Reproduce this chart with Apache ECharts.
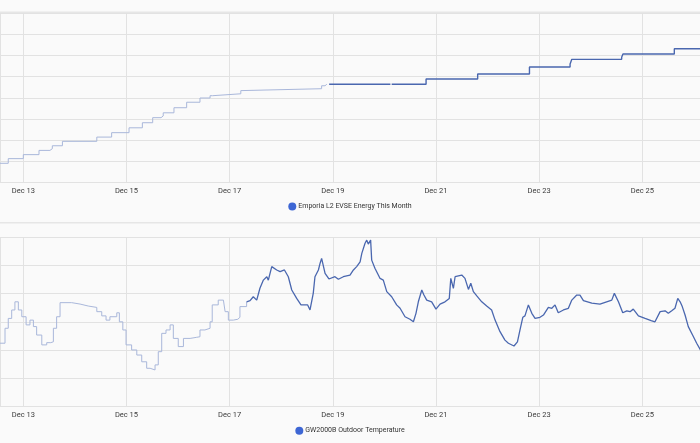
<!DOCTYPE html>
<html>
<head>
<meta charset="utf-8">
<script src="https://cdn.jsdelivr.net/npm/echarts@6/dist/echarts.min.js"></script>
<style>
  html, body { margin: 0; padding: 0; background: #fafafa; }
  #echarts { width: 700px; height: 443px; }
</style>
</head>
<body>
<div id="echarts"></div>
<script>
// x values are hours since Dec 12 00:00
var energyOldHours = [12.5, 17.0, 24.0, 31.3, 36.4, 37.5, 42.2, 58.2, 65.1, 73.2, 79.4, 84.2, 88.1, 89.1, 94.1,
    100.0, 106.2, 110.9, 112.1, 125.2, 125.8, 162.8, 164.4, 165.2];
var energyOldKwh = [9.0, 11.2, 13.1, 15.1, 15.9, 17.3, 19.4, 21.4, 23.5, 25.8, 28.2, 30.6, 31.4, 32.9, 35.3,
    37.9, 39.9, 41.0, 41.9, 43.4, 44.3, 45.7, 46.4, 46.4];
var energyNewHours = [166.3, 194.3, 194.8, 195.4, 211.4, 235.4, 259.5, 278.4, 279.2, 302.4, 303.0, 326.9, 340.0];
var energyNewKwh = [46.4, 46.4, null, 46.4, 48.9, 51.3, 54.6, 56.0, 58.2, 59.2, 60.7, 63.2, 63.2];

var tempOldHours = [12.5, 15.5, 17.0, 18.6, 20.1, 21.7, 23.3, 25.3, 27.1, 28.7, 30.2, 32.6, 34.9, 36.8, 38.0,
    39.5, 41.1, 43.4, 46.5, 50.4, 54.2, 58.2, 60.5, 62.5, 64.3, 67.5, 68.7, 70.3, 71.8, 74.4, 76.8, 79.1, 81.4,
    83.0, 85.3, 86.8, 88.4, 90.4, 92.3, 93.8, 96.1, 98.5, 101.6, 104.7, 106.2, 108.5, 110.9, 111.9, 114.7,
    117.1, 117.9, 119.4, 121.7, 123.8, 124.8, 127.9];
var tempOldF = [32.4, 37.7, 41.2, 44.2, 47.1, 44.2, 41.8, 38.9, 40.6, 38.3, 35.3, 31.8, 32.6, 32.9, 37.7,
    41.8, 46.8, 46.8, 46.3, 45.6, 45.1, 43.6, 42.1, 40.6, 41.8, 43.2, 40.0, 37.1, 31.8, 30.0, 28.2, 25.8, 23.5,
    22.9, 24.7, 29.4, 35.9, 37.1, 38.9, 34.1, 31.2, 34.1, 34.5, 34.7, 37.1, 37.7, 40.0, 46.0, 47.7,
    47.7, 43.6, 40.6, 40.9, 41.6, 45.4, 47.1];
var tempNewHours = [127.9, 129.5, 131.0, 132.6, 134.1, 135.7, 137.3, 138.0, 139.6, 141.9,
    143.5, 145.5, 147.3, 148.9, 151.2, 153.2, 156.3, 157.4, 158.9, 159.7,
    161.3, 162.1, 162.8, 164.4, 166.2, 169.0, 170.6, 172.9, 176.0, 177.6,
    179.1, 180.7, 181.5, 183.0, 183.8, 184.5, 185.6, 186.1, 187.6, 190.0,
    191.5, 193.1, 195.4, 197.7, 199.3, 201.6, 203.9, 205.5, 206.7, 207.8,
    209.4, 210.4, 211.7, 214.0, 216.0, 217.9, 220.2, 222.2, 222.9, 224.1,
    224.9, 228.0, 229.5, 231.1, 232.2, 233.4, 235.0, 237.3, 239.6, 241.9,
    243.5, 245.8, 248.1, 249.7, 250.5, 252.3, 253.9, 255.1, 256.4, 257.4,
    259.0, 260.6, 262.1, 264.4, 266.0, 268.3, 269.9, 271.4, 272.9, 275.3,
    277.6, 279.2, 281.5, 283.0, 284.6, 288.5, 292.3, 295.4, 297.8, 299.0,
    300.9, 302.9, 304.8, 306.3, 307.8, 310.2, 313.3, 316.1, 317.9, 320.3,
    322.6, 324.1, 325.7, 327.2, 328.5, 329.6, 330.6, 331.9, 333.4, 335.8,
    337.3, 339.5];
var tempNewF = [47.1, 47.5, 48.9, 47.7, 51.9, 54.8, 56.0, 54.8, 59.6, 58.4,
    57.8, 58.4, 56.0, 51.3, 48.3, 46.0, 46.0, 44.2, 50.1, 56.0,
    58.4, 60.8, 62.5, 57.2, 55.2, 56.0, 55.1, 56.0, 56.6, 58.4,
    59.6, 61.3, 64.3, 67.9, 69.0, 67.6, 69.0, 61.9, 59.0, 55.4,
    54.8, 50.7, 48.9, 46.0, 44.8, 41.8, 40.9, 40.0, 43.0, 47.1,
    51.3, 49.5, 47.7, 47.1, 44.5, 46.3, 47.1, 48.3, 55.4, 51.9,
    56.0, 56.6, 55.4, 51.5, 53.7, 50.7, 49.2, 47.1, 45.6, 44.2,
    40.6, 36.5, 33.5, 32.4, 32.9, 31.4, 32.9, 37.1, 41.6, 42.1,
    46.0, 43.0, 41.2, 41.6, 42.4, 45.1, 44.8, 46.0, 43.2, 44.2,
    44.8, 47.7, 49.5, 49.5, 47.5, 46.6, 46.3, 47.1, 47.7, 50.1,
    47.1, 43.2, 43.9, 43.6, 44.5, 42.1, 41.2, 40.4, 40.0, 43.6,
    43.9, 43.0, 43.9, 44.8, 48.3, 47.1, 45.4, 42.4, 38.3, 34.7,
    32.4, 29.4];

var energyName = 'Emporia L2 EVSE Energy This Month';
var tempName = 'GW2000B Outdoor Temperature';

// axis runs in days since Dec 13
var dayMin = -0.4517, dayMax = 13.1186;

function toDays(hours, vals) {
    var out = [];
    hours.forEach(function (h, i) {
        out.push([(h - 24) / 24, vals[i]]);
    });
    return out;
}

var lightColor = '#a9b7da';
var darkColor = '#4a67af';
var gridColor = '#e2e2e2';

function makeX(idx) {
    return {
        type: 'value',
        gridIndex: idx,
        min: dayMin,
        max: dayMax,
        splitNumber: 7,
        minInterval: 2,
        maxInterval: 2,
        axisLine: {show: false},
        axisTick: {show: false},
        axisLabel: {
            showMinLabel: false,
            showMaxLabel: false,
            margin: 5,
            color: '#3a3a3a',
            fontSize: 7.5,
            fontFamily: 'Roboto',
            formatter: function (v) {
                var r = Math.round(v);
                return Math.abs(v - r) < 1e-6 ? 'Dec ' + (13 + r) : '';
            }
        },
        splitLine: {show: true, lineStyle: {color: gridColor, width: 1}}
    };
}

function makeY(idx, mn, mx, step) {
    return {
        type: 'value',
        gridIndex: idx,
        min: mn,
        max: mx,
        interval: step,
        axisLine: {show: false},
        axisTick: {show: false},
        axisLabel: {show: false},
        splitLine: {lineStyle: {color: gridColor, width: 1}}
    };
}

function makeLegend(name, top) {
    return {
        data: [name],
        left: 'center',
        top: top,
        padding: 0,
        icon: 'circle',
        itemWidth: 8,
        itemHeight: 8,
        itemStyle: {color: '#3d66d4'},
        textStyle: {color: '#333', fontSize: 7, fontFamily: 'Roboto', padding: [0, 0, 0, -3]}
    };
}

var myChart = echarts.init(document.getElementById('echarts'));
var option = {
    animation: false,
    backgroundColor: '#fafafa',
    textStyle: {fontFamily: 'Roboto'},
    grid: [
        {left: 0, right: 0, top: 13.3, height: 169},
        {left: 0, right: 0, top: 237.3, height: 169}
    ],
    legend: [makeLegend(energyName, 202.5), makeLegend(tempName, 426.7)],
    graphic: [
        {type: 'rect', shape: {x: 0, y: 11.5, width: 700, height: 1.5}, style: {fill: '#e6e6e6'}, silent: true},
        {type: 'rect', shape: {x: 0, y: 222, width: 700, height: 1.5}, style: {fill: '#e6e6e6'}, silent: true}
    ],
    xAxis: [makeX(0), makeX(1)],
    yAxis: [makeY(0, 0, 80, 10), makeY(1, 10, 70, 10)],
    series: [
        {
            name: energyName, type: 'line', xAxisIndex: 0, yAxisIndex: 0,
            step: 'end', showSymbol: false, symbol: 'none',
            itemStyle: {color: '#3d66d4'},
            lineStyle: {color: lightColor, width: 1},
            data: toDays(energyOldHours, energyOldKwh)
        },
        {
            name: energyName, type: 'line', xAxisIndex: 0, yAxisIndex: 0,
            step: 'end', showSymbol: false, symbol: 'none', connectNulls: false,
            itemStyle: {color: '#3d66d4'},
            lineStyle: {color: darkColor, width: 1.4},
            data: toDays(energyNewHours, energyNewKwh)
        },
        {
            name: tempName, type: 'line', xAxisIndex: 1, yAxisIndex: 1,
            step: 'end', showSymbol: false, symbol: 'none',
            itemStyle: {color: '#3d66d4'},
            lineStyle: {color: lightColor, width: 1},
            data: toDays(tempOldHours, tempOldF)
        },
        {
            name: tempName, type: 'line', xAxisIndex: 1, yAxisIndex: 1,
            showSymbol: false, symbol: 'none',
            itemStyle: {color: '#3d66d4'},
            lineStyle: {color: darkColor, width: 1.3},
            data: toDays(tempNewHours, tempNewF)
        }
    ]
};
myChart.setOption(option);
</script>
</body>
</html>
